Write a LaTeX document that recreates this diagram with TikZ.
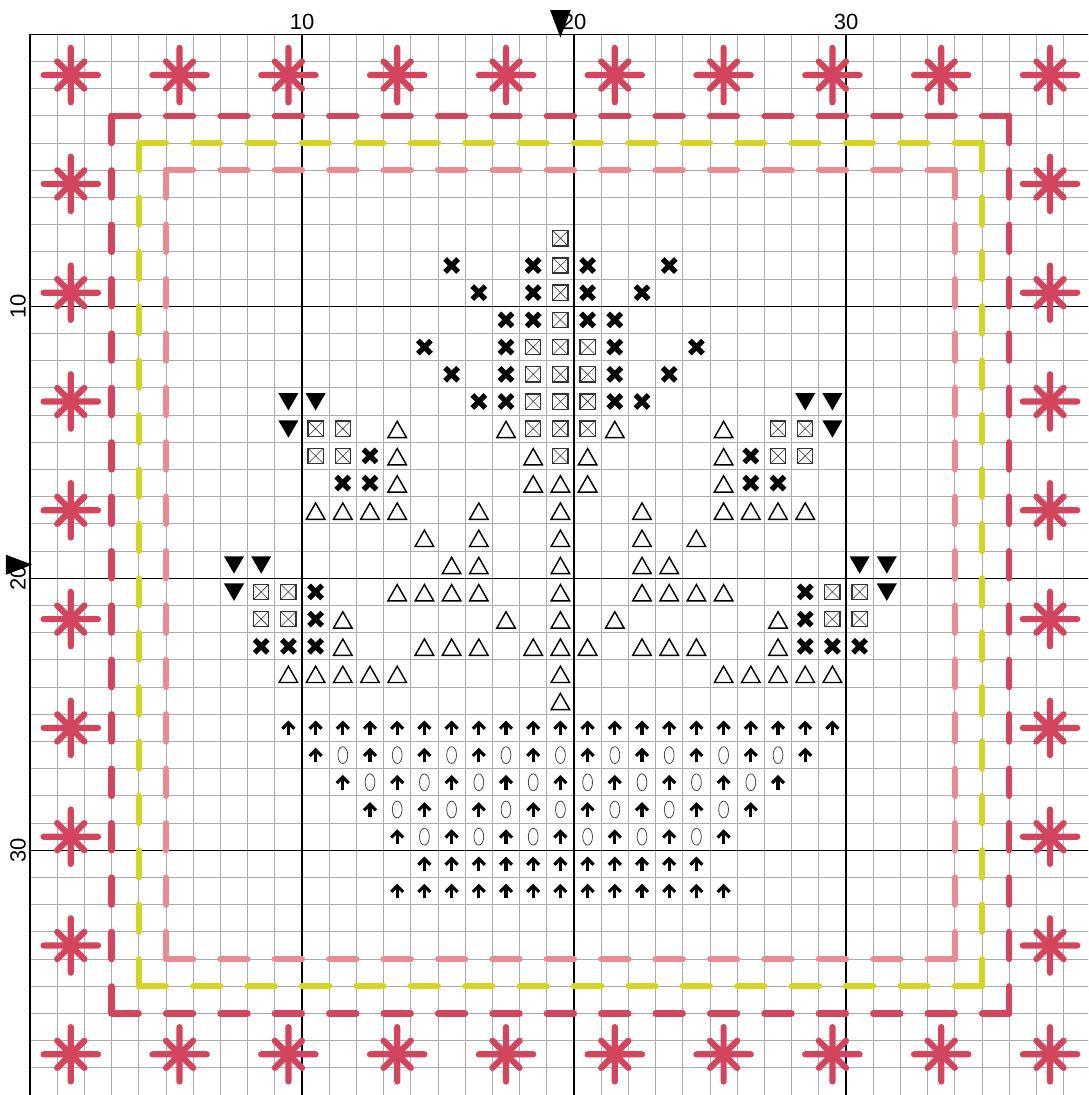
\documentclass[tikz,border=0pt]{standalone}
\usepackage{fontspec}
\setmainfont{Liberation Sans}
\usepackage{xcolor}
\usepackage{tikz}
\definecolor{threadred}{RGB}{211, 69, 93}
\definecolor{threadlime}{RGB}{212, 212, 36}
\definecolor{threadpink}{RGB}{232, 139, 146}
\definecolor{gridgray}{RGB}{172, 172, 172}

\begin{document}
\begin{tikzpicture}[x=1cm, y=-1cm,
    gridminor/.style={gridgray, line width=0.9pt},
    gridmajor/.style={black, line width=1.1pt},
    thread/.style={#1, line width=6.5pt, line cap=round},
    axis/.style={font=\fontsize{23}{27}\selectfont, inner sep=0pt},
    centre/.style={fill=black},
    starstitch/.pic={\draw[thread=threadred] (-1,0) -- (1,0) (0,-1) -- (0,1)
                       (-0.5,-0.5) -- (0.5,0.5) (-0.5,0.5) -- (0.5,-0.5);},
    xstitch/.pic={\draw[line width=5.5pt] (-0.24,-0.24) -- (0.24,0.24)
                       (-0.24,0.24) -- (0.24,-0.24);},
    boxstitch/.pic={\draw[black!80, line width=1.3pt] (-0.28,-0.28) rectangle (0.28,0.28);
                    \draw[black!80, line width=0.6pt] (-0.28,-0.28) -- (0.28,0.28)
                       (-0.28,0.28) -- (0.28,-0.28);},
    downtri/.pic={\fill (-0.37,-0.31) -- (0.37,-0.31) -- (0,0.33) -- cycle;},
    uptri/.pic={\draw[line width=1.5pt] (0,-0.27) -- (0.34,0.33) -- (-0.34,0.33) -- cycle;},
    uparrow/.pic={\draw[line width=3.3pt] (0,0.27) -- (0,-0.17);
                  \draw[line width=3.3pt] (-0.22,0.03) -- (0,-0.19) -- (0.22,0.03);},
    ovalstitch/.pic={\draw[black!75, line width=0.8pt] (0,0) ellipse [x radius=0.18, y radius=0.31];}
]
\path[use as bounding box, clip] (-0.603,-0.761) rectangle (39.397,39.496);

%% ── Grid ───────────────────────────────────────────────────────────────
\foreach \k in {0,...,39} {
  \draw[gridminor] ({\k+0.5},0.5) -- ({\k+0.5},39.5);
  \draw[gridminor] (0.5,{\k+0.5}) -- (39.5,{\k+0.5});
}
\foreach \k in {0,10,20,30} {
  \draw[gridmajor] ({\k+0.5},0.5) -- ({\k+0.5},39.5);
  \draw[gridmajor] (0.5,{\k+0.5}) -- (39.5,{\k+0.5});
}

%% ── Axis numbers and centre marks ──────────────────────────────────────
\node[axis] (top10) at (10.5,0.03) {10};
\node[axis] (top20) at (20.5,0.03) {20};
\node[axis] (top30) at (30.5,0.03) {30};
\node[axis, rotate=90] (left10) at (0.06,10.5) {10};
\node[axis, rotate=90] (left20) at (0.06,20.5) {20};
\node[axis, rotate=90] (left30) at (0.06,30.5) {30};
\fill[centre] (19.62,-0.39) -- (20.38,-0.39) -- (20,0.62) -- cycle;
\fill[centre] (-0.39,19.63) -- (-0.39,20.37) -- (0.58,20) -- cycle;

%% ── Star border ────────────────────────────────────────────────────────
\foreach \c in {2,6,...,38} {
  \pic at (\c,2) {starstitch};
  \pic at (\c,38) {starstitch};
}
\foreach \r in {6,10,...,34} {
  \pic at (2,\r) {starstitch};
  \pic at (38,\r) {starstitch};
}

%% ── Back-stitch frames ─────────────────────────────────────────────────
\foreach \s in {3,5,...,35} {
  \draw[thread=threadred] ({\s+0.5},3.5) -- ({\s+1.5},3.5);
  \draw[thread=threadred] ({\s+0.5},36.5) -- ({\s+1.5},36.5);
  \draw[thread=threadred] (3.5,{\s+0.5}) -- (3.5,{\s+1.5});
  \draw[thread=threadred] (36.5,{\s+0.5}) -- (36.5,{\s+1.5});
}
\foreach \s in {4,6,...,34} {
  \draw[thread=threadlime] ({\s+0.5},4.5) -- ({\s+1.5},4.5);
  \draw[thread=threadlime] ({\s+0.5},35.5) -- ({\s+1.5},35.5);
  \draw[thread=threadlime] (4.5,{\s+0.5}) -- (4.5,{\s+1.5});
  \draw[thread=threadlime] (35.5,{\s+0.5}) -- (35.5,{\s+1.5});
}
\foreach \s in {5,7,...,33} {
  \draw[thread=threadpink] ({\s+0.5},5.5) -- ({\s+1.5},5.5);
  \draw[thread=threadpink] ({\s+0.5},34.5) -- ({\s+1.5},34.5);
  \draw[thread=threadpink] (5.5,{\s+0.5}) -- (5.5,{\s+1.5});
  \draw[thread=threadpink] (34.5,{\s+0.5}) -- (34.5,{\s+1.5});
}

%% ── Motif: heavy crosses ───────────────────────────────────────────────
\foreach \c/\r in {16/9,19/9,21/9,24/9, 17/10,19/10,21/10,23/10,
    18/11,19/11,21/11,22/11, 15/12,18/12,22/12,25/12, 16/13,18/13,22/13,24/13,
    17/14,18/14,22/14,23/14, 13/16,27/16, 12/17,13/17,27/17,28/17,
    11/21,29/21, 11/22,29/22, 9/23,10/23,11/23,29/23,30/23,31/23}
  \pic at (\c,\r) {xstitch};

%% ── Motif: boxed crosses ───────────────────────────────────────────────
\foreach \c/\r in {20/8,20/9,20/10,20/11, 19/12,20/12,21/12, 19/13,20/13,21/13,
    19/14,20/14,21/14, 11/15,12/15,19/15,20/15,21/15,28/15,29/15,
    11/16,12/16,20/16,28/16,29/16, 9/21,10/21,30/21,31/21, 9/22,10/22,30/22,31/22}
  \pic at (\c,\r) {boxstitch};

%% ── Motif: filled triangles ────────────────────────────────────────────
\foreach \c/\r in {10/14,11/14,29/14,30/14, 10/15,30/15,
    8/20,9/20,31/20,32/20, 8/21,32/21}
  \pic at (\c,\r) {downtri};

%% ── Motif: open triangles ──────────────────────────────────────────────
\foreach \c/\r in {14/15,18/15,22/15,26/15, 14/16,19/16,21/16,26/16,
    14/17,19/17,20/17,21/17,26/17,
    11/18,12/18,13/18,14/18,17/18,20/18,23/18,26/18,27/18,28/18,29/18,
    15/19,17/19,20/19,23/19,25/19, 16/20,17/20,20/20,23/20,24/20,
    14/21,15/21,16/21,17/21,20/21,23/21,24/21,25/21,26/21,
    12/22,18/22,20/22,22/22,28/22,
    12/23,15/23,16/23,17/23,19/23,20/23,21/23,23/23,24/23,25/23,28/23,
    10/24,11/24,12/24,13/24,14/24,20/24,26/24,27/24,28/24,29/24,30/24, 20/25}
  \pic at (\c,\r) {uptri};

%% ── Motif: base rows ───────────────────────────────────────────────────
\foreach \c in {10,...,30} \pic at (\c,26) {uparrow};
\foreach \c in {11,13,...,29} \pic at (\c,27) {uparrow};
\foreach \c in {12,14,...,28} \pic at (\c,27) {ovalstitch};
\foreach \c in {12,14,...,28} \pic at (\c,28) {uparrow};
\foreach \c in {13,15,...,27} \pic at (\c,28) {ovalstitch};
\foreach \c in {13,15,...,27} \pic at (\c,29) {uparrow};
\foreach \c in {14,16,...,26} \pic at (\c,29) {ovalstitch};
\foreach \c in {14,16,...,26} \pic at (\c,30) {uparrow};
\foreach \c in {15,17,...,25} \pic at (\c,30) {ovalstitch};
\foreach \c in {15,...,25} \pic at (\c,31) {uparrow};
\foreach \c in {14,...,26} \pic at (\c,32) {uparrow};
\end{tikzpicture}
\end{document}
